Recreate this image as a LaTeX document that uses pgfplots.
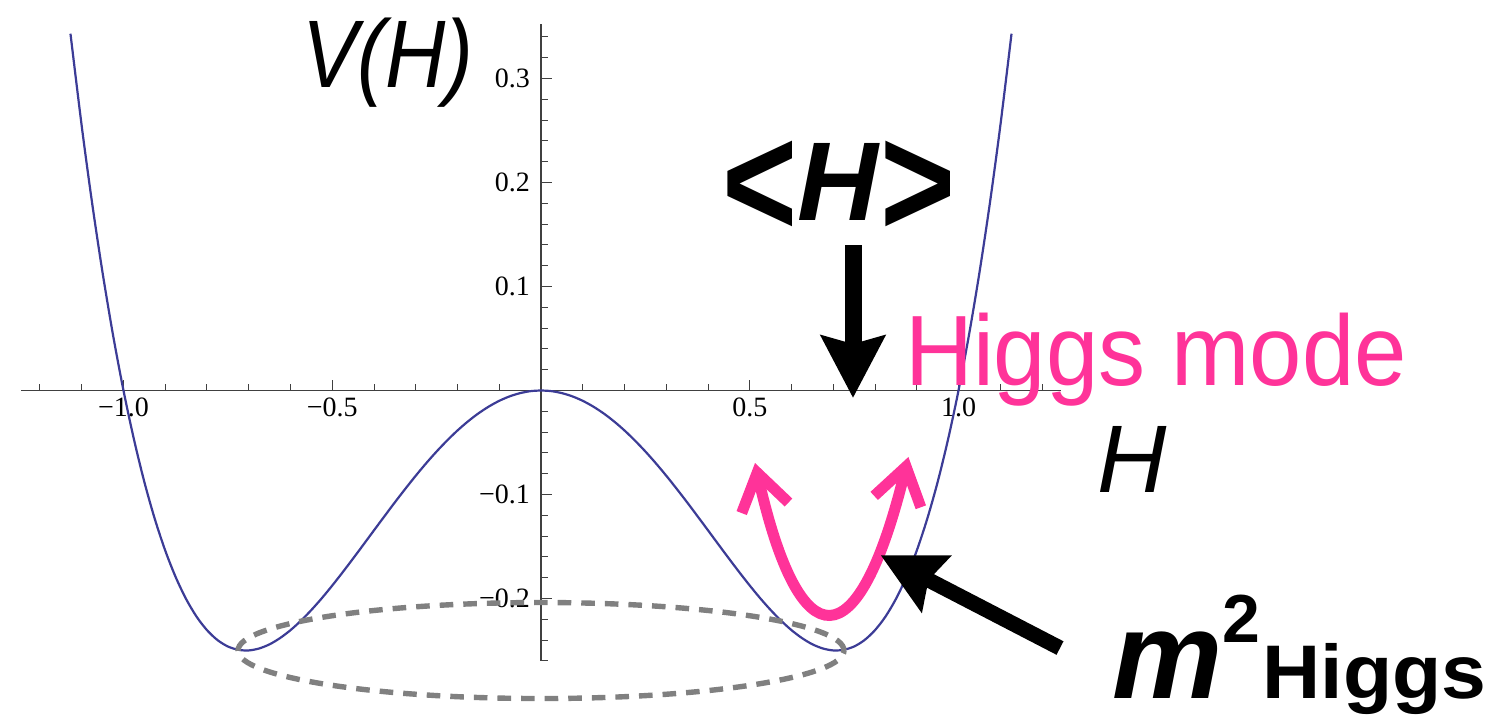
\documentclass[border=0pt]{standalone}
\usepackage{fontspec}
\setmainfont{Liberation Serif}
\newfontfamily\sansfont{Liberation Sans}
\usepackage{pgfplots}
\pgfplotsset{compat=1.18}
\usetikzlibrary{arrows.meta}
\definecolor{curveblue}{RGB}{60,60,150}
\definecolor{hotpink}{RGB}{255,51,153}
\definecolor{ringgray}{RGB}{128,128,128}

\begin{document}
\begin{tikzpicture}
\begin{axis}[
  x=208.75pt, y=520pt,
  axis lines=middle,
  xmin=-1.245, xmax=1.245, ymin=-0.26, ymax=0.352,
  clip=false,
  axis line style={line width=0.6pt, black!75},
  every inner x axis line/.append style={-},
  every inner y axis line/.append style={-},
  tick align=inside,
  tick style={line width=0.5pt, black!75},
  major tick length=5.5pt, minor tick length=3.5pt,
  xtick={-1,-0.5,0.5,1},
  xticklabels={−1.0,−0.5,0.5,1.0},
  ytick={-0.2,-0.1,0.1,0.2,0.3},
  yticklabels={−0.2,−0.1,0.1,0.2,0.3},
  minor xtick={-1.2,-1.1,-0.9,-0.8,-0.7,-0.6,-0.4,-0.3,-0.2,-0.1,0.1,0.2,0.3,0.4,0.6,0.7,0.8,0.9,1.1,1.2},
  minor ytick={-0.26,-0.24,-0.22,-0.18,-0.16,-0.14,-0.12,-0.08,-0.06,-0.04,-0.02,0.02,0.04,0.06,0.08,0.12,0.14,0.16,0.18,0.22,0.24,0.26,0.28,0.32,0.34},
  tick label style={font=\fontsize{14}{16}\selectfont},
  yticklabel style={xshift=-2pt},
]
% double-well potential V(H)
\addplot[curveblue, line width=1.1pt, smooth, no markers] coordinates {
  (-1.127,0.3431) (-1.100,0.2541) (-1.075,0.1798) (-1.050,0.1130) (-1.025,0.0532)
  (-1.000,0) (-0.975,-0.0469) (-0.950,-0.0880) (-0.925,-0.1235) (-0.900,-0.1539)
  (-0.875,-0.1794) (-0.850,-0.2005) (-0.825,-0.2174) (-0.800,-0.2304) (-0.775,-0.2399)
  (-0.750,-0.2461) (-0.725,-0.2493) (-0.700,-0.2499) (-0.675,-0.2480) (-0.650,-0.2440)
  (-0.625,-0.2380) (-0.600,-0.2304) (-0.575,-0.2213) (-0.550,-0.2110) (-0.525,-0.1997)
  (-0.500,-0.1875) (-0.475,-0.1747) (-0.450,-0.1615) (-0.425,-0.1480) (-0.400,-0.1344)
  (-0.375,-0.1209) (-0.350,-0.1075) (-0.325,-0.0945) (-0.300,-0.0819) (-0.275,-0.0699)
  (-0.250,-0.0586) (-0.225,-0.0481) (-0.200,-0.0384) (-0.175,-0.0297) (-0.150,-0.0220)
  (-0.125,-0.0154) (-0.100,-0.0099) (-0.075,-0.0056) (-0.050,-0.0025) (-0.025,-0.0006)
  (0,0)
  (0.025,-0.0006) (0.050,-0.0025) (0.075,-0.0056) (0.100,-0.0099) (0.125,-0.0154)
  (0.150,-0.0220) (0.175,-0.0297) (0.200,-0.0384) (0.225,-0.0481) (0.250,-0.0586)
  (0.275,-0.0699) (0.300,-0.0819) (0.325,-0.0945) (0.350,-0.1075) (0.375,-0.1209)
  (0.400,-0.1344) (0.425,-0.1480) (0.450,-0.1615) (0.475,-0.1747) (0.500,-0.1875)
  (0.525,-0.1997) (0.550,-0.2110) (0.575,-0.2213) (0.600,-0.2304) (0.625,-0.2380)
  (0.650,-0.2440) (0.675,-0.2480) (0.700,-0.2499) (0.725,-0.2493) (0.750,-0.2461)
  (0.775,-0.2399) (0.800,-0.2304) (0.825,-0.2174) (0.850,-0.2005) (0.875,-0.1794)
  (0.900,-0.1539) (0.925,-0.1235) (0.950,-0.0880) (0.975,-0.0469) (1.000,0)
  (1.025,0.0532) (1.050,0.1130) (1.075,0.1798) (1.100,0.2541) (1.127,0.3431)
};

% ring of degenerate minima
\draw[ringgray, line width=2.7pt, dash pattern=on 6.8pt off 5pt]
  (axis cs:0,-0.25) ellipse [x radius=151.5pt, y radius=24pt];

% labels
\node[anchor=base, inner sep=0] at (axis cs:-0.3665,0.2918)
  {\scalebox{0.87}[1]{\fontsize{48}{50}\selectfont\sansfont\itshape V(H)}};
\node[anchor=base, inner sep=0] at (axis cs:1.4156,-0.0976)
  {\fontsize{48}{50}\selectfont\sansfont\itshape H};
\node[anchor=base, inner sep=0] at (axis cs:0.7138,0.1639)
  {\fontsize{56}{60}\selectfont\sansfont\bfseries
   \raisebox{-8pt}{\scalebox{1.15}[1.42]{<}}\textit{H}\raisebox{-8pt}{\scalebox{1.15}[1.42]{>}}};

% vacuum expectation value
\draw[line width=8.5pt, -{Stealth[length=31pt,width=31.5pt,inset=4pt]}]
  (axis cs:0.7473,0.1399) -- (axis cs:0.7473,-0.0072);

% radial oscillation
\draw[hotpink, line width=5.5pt,
      {Straight Barb[length=18pt,width=24pt]}-{Straight Barb[length=18pt,width=24pt]}]
  (axis cs:0.5126,-0.0697) .. controls (axis cs:0.62,-0.2613) and (axis cs:0.76,-0.2613)
  .. (axis cs:0.88,-0.0639);
\node[anchor=base, inner sep=0, text=hotpink] at (axis cs:1.4731,0.0053)
  {\scalebox{0.94}[1]{\fontsize{50}{52}\selectfont\sansfont Higgs mode}};

% curvature at the minimum
\draw[line width=7.6pt, -{Stealth[length=31pt,width=31pt,inset=4pt]}]
  (axis cs:1.2431,-0.2476) -- (axis cs:0.8132,-0.1582);
\node[anchor=base west, inner sep=0] at (axis cs:1.3677,-0.2957)
  {\sansfont\bfseries{\fontsize{62}{64}\selectfont\itshape m}\raisebox{28pt}{\fontsize{34}{36}\selectfont 2}\hspace{1pt}\scalebox{1.06}[1]{\fontsize{38}{40}\selectfont Higgs}};

\coordinate (bbsw) at (axis cs:-1.2958,-0.3197);
\coordinate (bbne) at (axis cs:2.2898,0.3755);
\end{axis}
\pgfresetboundingbox
\path[use as bounding box] (bbsw) rectangle (bbne);
\end{tikzpicture}
\end{document}
